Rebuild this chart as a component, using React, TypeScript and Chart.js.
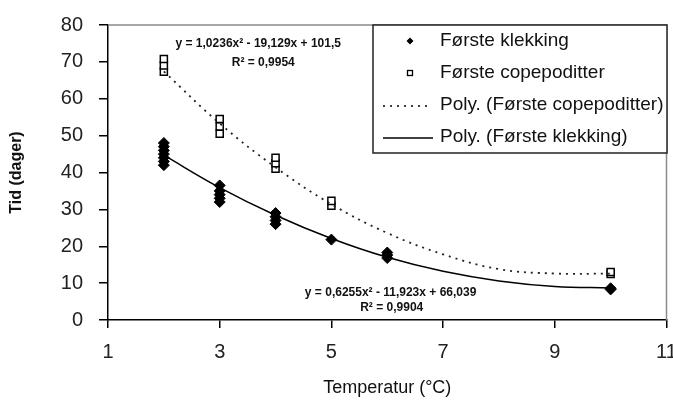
import React, { useEffect, useRef } from "react";
import { Chart, registerables } from "chart.js";

Chart.register(...registerables);

// Første klekking (observations)
const klekkingX = [2, 2, 2, 2, 2, 2, 2, 3, 3, 3, 3, 3, 4, 4, 4, 4, 5, 6, 6, 6, 10, 10];
const klekkingY = [42, 43, 44, 45, 46, 47, 48, 32, 33, 34, 35, 36.5, 26, 27, 28, 29, 21.8, 16.8, 17.6, 18.3, 8.3, 8.6];

// Første copepoditter (observations)
const copX = [2, 2, 2, 3, 3, 3, 4, 4, 4, 5, 5, 10, 10];
const copY = [67.3, 69, 70.8, 50.5, 52.5, 54.5, 41, 42.5, 44, 31, 32.3, 12.5, 13];

// Trend lines
const trendX = [2, 3, 4, 5, 6, 7, 8, 9, 10];
const trendCop = [67.4, 53.3, 41.4, 31.4, 23.6, 17.8, 13.8, 12.6, 12.6];
const trendKlek = [44.7, 35.9, 28.4, 22.1, 17.0, 13.2, 10.6, 9.1, 8.7];

const xTicks = [1, 3, 5, 7, 9, 11];
const yTicks = [0, 10, 20, 30, 40, 50, 60, 70, 80];

const legendLabels = [
  "Første klekking",
  "Første copepoditter",
  "Poly. (Første copepoditter)",
  "Poly. (Første klekking)",
];

const eqCop = "y = 1,0236x² - 19,129x + 101,5";
const r2Cop = "R² = 0,9954";
const eqKlek = "y = 0,6255x² - 11,923x + 66,039";
const r2Klek = "R² = 0,9904";

const FONT = '"Liberation Sans", Arial, sans-serif';

const overlayPlugin = {
  id: "overlay",
  beforeDatasetsDraw(chart: any) {
    const { ctx, chartArea } = chart;
    ctx.save();
    ctx.strokeStyle = "#8a8a8a";
    ctx.lineWidth = 1.5;
    ctx.beginPath();
    ctx.moveTo(chartArea.left, chartArea.top);
    ctx.lineTo(chartArea.right, chartArea.top);
    ctx.lineTo(chartArea.right, chartArea.bottom);
    ctx.stroke();
    ctx.restore();
  },
  afterDraw(chart: any) {
    const { ctx, chartArea, scales } = chart;
    const xs = scales.x;
    const ys = scales.y;
    ctx.save();
    // equations
    ctx.fillStyle = "#111";
    ctx.font = `bold 12px ${FONT}`;
    ctx.textAlign = "center";
    ctx.textBaseline = "middle";
    ctx.fillText(eqCop, xs.getPixelForValue(3.69), ys.getPixelForValue(74.9));
    ctx.fillText(r2Cop, xs.getPixelForValue(3.78), ys.getPixelForValue(69.7));
    ctx.fillText(eqKlek, xs.getPixelForValue(6.06), ys.getPixelForValue(7.5));
    ctx.fillText(r2Klek, xs.getPixelForValue(6.08), ys.getPixelForValue(3.4));

    // legend
    const bx = chartArea.left + 265;
    const by = chartArea.top;
    const bw = 294;
    const bh = 128;
    ctx.fillStyle = "#fff";
    ctx.fillRect(bx, by, bw, bh);
    ctx.strokeStyle = "#222";
    ctx.lineWidth = 1.5;
    ctx.strokeRect(bx, by, bw, bh);

    const rows = [by + 16, by + 48, by + 80, by + 112];
    const mx = bx + 37;
    const tx = bx + 67;
    // diamond
    ctx.fillStyle = "#000";
    ctx.beginPath();
    ctx.moveTo(mx, rows[0] - 3.5);
    ctx.lineTo(mx + 3.5, rows[0]);
    ctx.lineTo(mx, rows[0] + 3.5);
    ctx.lineTo(mx - 3.5, rows[0]);
    ctx.closePath();
    ctx.fill();
    // square
    ctx.strokeStyle = "#000";
    ctx.lineWidth = 1.3;
    ctx.strokeRect(mx - 2.5, rows[1] - 2.5, 5, 5);
    // dotted line
    ctx.lineWidth = 1.5;
    ctx.setLineDash([2, 5]);
    ctx.beginPath();
    ctx.moveTo(bx + 10, rows[2] + 1);
    ctx.lineTo(bx + 58, rows[2] + 1);
    ctx.stroke();
    ctx.setLineDash([]);
    ctx.beginPath();
    ctx.moveTo(bx + 10, rows[3] + 1);
    ctx.lineTo(bx + 60, rows[3] + 1);
    ctx.stroke();

    ctx.fillStyle = "#111";
    ctx.font = `19px ${FONT}`;
    ctx.textAlign = "left";
    ctx.textBaseline = "middle";
    legendLabels.forEach((t, i) => ctx.fillText(t, tx, rows[i]));
    ctx.restore();
  },
};

export default function App() {
  const ref = useRef<HTMLCanvasElement | null>(null);

  useEffect(() => {
    if (!ref.current) return;
    const chart = new Chart(ref.current, {
      type: "scatter",
      data: {
        datasets: [
          {
            type: "line",
            label: "Poly. (Første copepoditter)",
            data: trendX.map((x, i) => ({ x, y: trendCop[i] })),
            borderColor: "#222",
            borderWidth: 1.8,
            borderDash: [2, 5],
            pointRadius: 0,
            tension: 0.4,
            fill: false,
          },
          {
            type: "line",
            label: "Poly. (Første klekking)",
            data: trendX.map((x, i) => ({ x, y: trendKlek[i] })),
            borderColor: "#000",
            borderWidth: 1.5,
            pointRadius: 0,
            tension: 0.4,
            fill: false,
          },
          {
            label: "Første copepoditter",
            data: copX.map((x, i) => ({ x, y: copY[i] })),
            pointStyle: "rect",
            pointRadius: 5,
            backgroundColor: "#fff",
            borderColor: "#000",
            borderWidth: 1.5,
          },
          {
            label: "Første klekking",
            data: klekkingX.map((x, i) => ({ x, y: klekkingY[i] })),
            pointStyle: "rectRot",
            pointRadius: 5.5,
            backgroundColor: "#000",
            borderColor: "#000",
            borderWidth: 1,
          },
        ],
      },
      options: {
        animation: false,
        responsive: false,
        devicePixelRatio: 1,
        layout: { padding: { top: 25, right: 4, left: 0, bottom: 0 } },
        plugins: {
          legend: { display: false },
          tooltip: { enabled: false },
        },
        scales: {
          x: {
            type: "linear",
            min: 1,
            max: 11,
            afterBuildTicks: (s: any) => {
              s.ticks = xTicks.map((v) => ({ value: v }));
            },
            afterFit: (s: any) => {
              s.height = 82;
              s.paddingLeft = 0;
              s.paddingRight = 0;
            },
            border: { color: "#000", width: 1.5 },
            grid: {
              drawOnChartArea: false,
              tickLength: 8,
              color: "#000",
              lineWidth: 1.5,
            },
            ticks: {
              color: "#222",
              font: { family: FONT, size: 20 },
              padding: 12,
              maxRotation: 0,
            },
            title: {
              display: true,
              text: "Temperatur (°C)",
              color: "#111",
              font: { family: FONT, size: 18 },
              padding: { top: 0, bottom: 3 },
            },
          },
          y: {
            type: "linear",
            min: 0,
            max: 80,
            afterBuildTicks: (s: any) => {
              s.ticks = yTicks.map((v) => ({ value: v }));
            },
            afterFit: (s: any) => {
              s.width = 108;
              s.paddingTop = 0;
              s.paddingBottom = 0;
            },
            border: { color: "#000", width: 1.5 },
            grid: {
              drawOnChartArea: false,
              tickLength: 9,
              color: "#000",
              lineWidth: 1.5,
            },
            ticks: {
              color: "#222",
              font: { family: FONT, size: 20 },
              padding: 16,
            },
            title: {
              display: true,
              text: "Tid (dager)",
              color: "#111",
              font: { family: FONT, size: 16, weight: "bold" },
              padding: { top: 7, bottom: 0 },
            },
          },
        },
      },
      plugins: [overlayPlugin],
    } as any);
    return () => chart.destroy();
  }, []);

  return (
    <div style={{ position: "fixed", left: 0, top: 0, width: 673, height: 402, background: "#fff" }}>
      <canvas ref={ref} width={673} height={402} style={{ display: "block" }} />
    </div>
  );
}
